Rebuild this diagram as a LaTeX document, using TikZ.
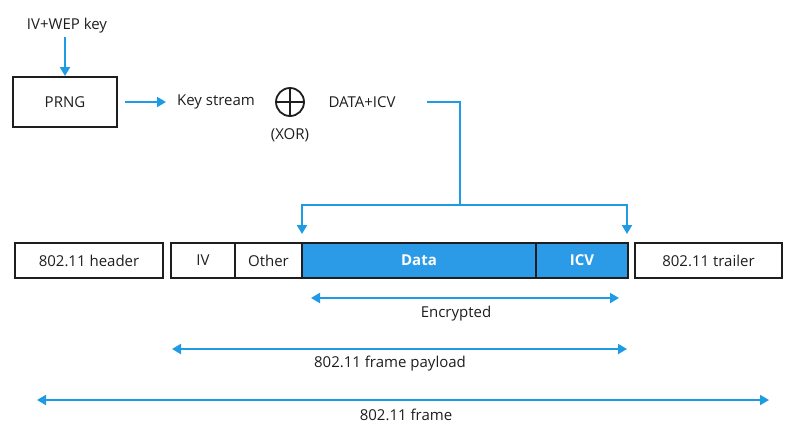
\documentclass[tikz,border=0pt]{standalone}
\usepackage{fontspec}
\setmainfont{Open Sans}
\usetikzlibrary{arrows.meta}
\definecolor{wblue}{HTML}{2B9BE8}
\definecolor{wline}{HTML}{1F9AE5}
\definecolor{wdark}{HTML}{1E1E1E}
\begin{document}
\begin{tikzpicture}[x=1pt,y=-1pt,
  txt/.style={font=\fontsize{15}{17}\selectfont, text=wdark, inner sep=0pt},
  fbox/.style={draw=wdark, line width=2pt, minimum height=35pt, inner sep=0pt, font=\fontsize{15}{17}\selectfont, text=wdark},
  enc/.style={fbox, fill=wblue, text=white, font=\fontsize{15}{17}\selectfont\bfseries},
  tip/.tip={Triangle[length=9pt,width=10pt]},
  conn/.style={draw=wline, line width=2pt, -tip},
  both/.style={draw=wline, line width=2pt, tip-tip},
  plain/.style={draw=wline, line width=2pt}]
\useasboundingbox (0,0) rectangle (797,432);
\node[txt] (key) at (67,26) {IV+WEP key};
\node[fbox, minimum width=104pt, minimum height=50pt] (prng) at (65,102) {PRNG};
\coordinate (ks) at (65,37);
\draw[conn] (ks) -- (prng.north);
\node[txt] (kstream) at (216,102) {Key stream};
\node[draw=wdark, line width=1.8pt, circle, minimum size=28pt, inner sep=0pt] (xor) at (290,102) {};
\draw[wdark, line width=1.8pt] (xor.north) -- (xor.south) (xor.west) -- (xor.east);
\node[txt] (xorl) at (290,135) {(XOR)};
\node[txt] (dicv) at (362,102) {DATA+ICV};
\coordinate (pa) at (125,102);
\coordinate (pb) at (166,102);
\draw[conn] (pa) -- (pb);
% frame
\node[fbox, minimum width=148pt] (hdr) at (89,260.5) {802.11 header};
\node[fbox, minimum width=64pt] (iv) at (203,260.5) {IV};
\node[fbox, minimum width=67pt] (oth) at (268.5,260.5) {Other};
\node[enc, minimum width=234pt] (data) at (419,260.5) {Data};
\node[enc, minimum width=92pt] (icv) at (582,260.5) {ICV};
\node[fbox, minimum width=147pt] (trl) at (708.5,260.5) {802.11 trailer};
% distribution connector
\coordinate (d0) at (427,102);
\coordinate (d1) at (460,102);
\coordinate (d2) at (460,205);
\coordinate (dl) at (302,205);
\coordinate (dr) at (627,205);
\coordinate (tl) at (302,234);
\coordinate (tr) at (627,234);
\draw[plain] (d0) -- (d1) -- (d2);
\draw[both] (tl) -- (dl) -- (dr) -- (tr);
% span arrows
\coordinate (e1) at (311,298); \coordinate (e2) at (619,298);
\draw[both] (e1) -- (e2);
\node[txt] (encl) at (456,314) {Encrypted};
\coordinate (p1) at (172,349); \coordinate (p2) at (627,349);
\draw[both] (p1) -- (p2);
\node[txt] (payl) at (390,364) {802.11 frame payload};
\coordinate (f1) at (37,400); \coordinate (f2) at (769,400);
\draw[both] (f1) -- (f2);
\node[txt] (frl) at (406,415) {802.11 frame};
\end{tikzpicture}
\end{document}
